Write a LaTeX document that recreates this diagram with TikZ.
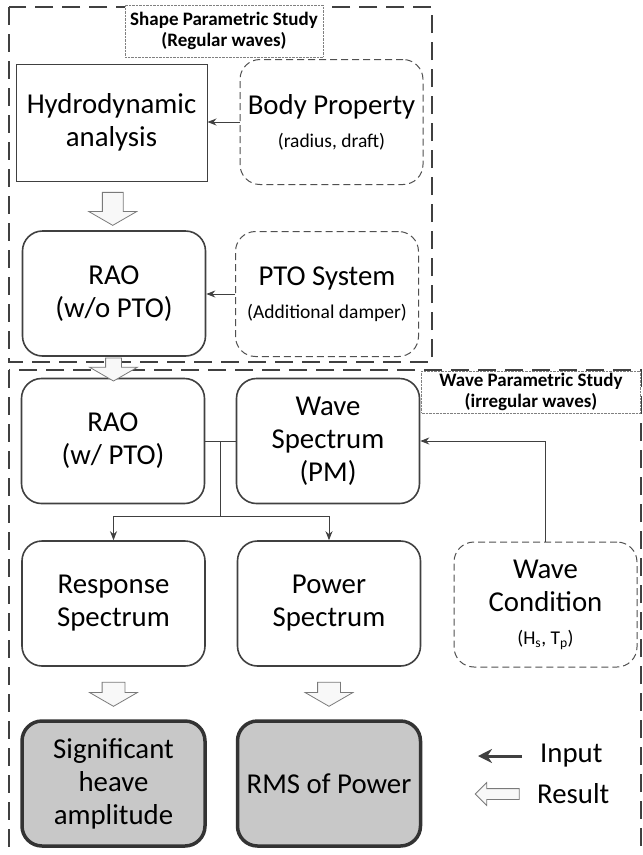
\documentclass[tikz,border=0pt]{standalone}
\usepackage{fontspec}
\setmainfont{Carlito}
\usetikzlibrary{shapes.arrows,arrows.meta,positioning,calc}
\definecolor{boxline}{HTML}{404040}
\definecolor{dashline}{HTML}{505050}
\definecolor{resfill}{HTML}{C8C8C8}
\definecolor{arrfill}{HTML}{F8F8F8}
\definecolor{arrline}{HTML}{7A7A7A}
\newcommand{\bigtxt}{\fontsize{28.8}{33}\selectfont}
\newcommand{\smalltxt}{\fontsize{19.5}{23}\selectfont}

\begin{document}
\begin{tikzpicture}[x=1pt,y=-1pt,
  grp/.style={draw=boxline, line width=2.5pt, dash pattern=on 18pt off 9pt},
  lbl/.style={draw=gray, densely dotted, fill=white, align=center, inner sep=0pt,
              font=\fontsize{19}{21}\selectfont\bfseries},
  proc/.style={draw=boxline, line width=1.6pt, rounded corners=20pt,
               minimum width=183pt, minimum height=125pt, align=center, font=\bigtxt},
  inp/.style={proc, draw=dashline, line width=1pt, dash pattern=on 7pt off 4pt},
  res/.style={proc, line width=3.5pt, draw=black!80, fill=resfill},
  ln/.style={draw=boxline, line width=0.9pt},
  inarr/.style={ln, -{Stealth[length=9pt,width=7pt]}},
  legin/.style={draw=boxline, line width=3pt, -{Stealth[length=14pt,width=14pt]}},
  resarr/.style={single arrow, draw=arrline, fill=arrfill, line width=0.8pt,
                 inner xsep=0pt, single arrow tip angle=120}
]
  \useasboundingbox (0,0) rectangle (643,855);

  % study groups
  \draw[grp] (9,7) rectangle (432,362);
  \draw[grp] (9,370) rectangle (641,859);
  \node[lbl, minimum width=198pt, minimum height=52pt] (shapelbl) at (224,31)
    {Shape Parametric Study\\(Regular waves)};
  \node[lbl, minimum width=219pt, minimum height=42pt] (wavelbl) at (531,392)
    {Wave Parametric Study\\(irregular waves)};

  % regular waves
  \node[proc, sharp corners, line width=1pt, minimum width=191pt, minimum height=117pt]
    (hyd) at (111.5,122.5) {Hydrodynamic\\analysis};
  \node[inp] (body) at (331.5,122) {Body Property\\{\smalltxt (radius, draft)}};
  \node[proc] (rao1) at (114,293.5) {RAO\\(w/o PTO)};
  \node[inp] (pto) at (327,294) {PTO System\\{\smalltxt (Additional damper)}};

  % irregular waves
  \node[proc] (rao2) at (113,441) {RAO\\(w/ PTO)};
  \node[proc] (ws) at (328,441) {Wave\\Spectrum\\(PM)};
  \node[proc] (resp) at (113.5,603.5) {Response\\Spectrum};
  \node[proc] (pow) at (329,603.5) {Power\\Spectrum};
  \node[inp] (wc) at (545.5,604.5)
    {Wave\\Condition\\{\smalltxt (H\textsubscript{s}, T\textsubscript{p})}};
  \node[res] (sig) at (113.5,783.5) {Significant\\heave\\amplitude};
  \node[res] (rms) at (329,783.5) {RMS of Power};

  % inputs
  \draw[inarr] (body.west) -- (body.west -| hyd.east);
  \draw[inarr] (pto.west) -- (pto.west -| rao1.east);
  \draw[ln] (rao2.east) -- (ws.west);
  \coordinate (jn) at ($(rao2.east)!0.5!(ws.west)$);
  \coordinate (split) at ($(jn)+(0,75)$);
  \draw[ln] (jn) -- (split);
  \draw[inarr] (split) -| (resp.north);
  \draw[inarr] (split) -| (pow.north);
  \draw[inarr] (wc.north) |- (ws.east);

  % results
  \node[resarr, rotate=-90, minimum height=33pt, inner ysep=10pt,
        single arrow head extend=13.5pt] (ra1) at ($(hyd.south)!0.5!(rao1.north)$) {};
  \node[resarr, rotate=-90, minimum height=23pt, inner ysep=7.5pt,
        single arrow head extend=16pt] (ra2) at ($(rao1.south)!0.5!(rao2.north)$) {};
  \node[resarr, rotate=-90, minimum height=24pt, inner ysep=11pt,
        single arrow head extend=12.5pt] (ra3) at ($(resp.south)!0.5!(sig.north)+(0,-2)$) {};
  \node[resarr, rotate=-90, minimum height=24pt, inner ysep=11pt,
        single arrow head extend=12.5pt] (ra4) at ($(pow.south)!0.5!(rms.north)+(0,-2)$) {};

  % legend
  \coordinate (inS) at (522,756);
  \coordinate (inE) at (478,756);
  \draw[legin] (inS) -- (inE);
  \node[anchor=west, inner sep=0pt, font=\bigtxt] (inlbl) at (540,756) {Input};
  \node[resarr, rotate=180, minimum height=44pt, inner ysep=5pt,
        single arrow head extend=6pt, single arrow tip angle=90] (resleg) at (500,794) {};
  \node[anchor=west, inner sep=0pt, font=\bigtxt] (reslbl) at (537,794) {Result};
\end{tikzpicture}
\end{document}
